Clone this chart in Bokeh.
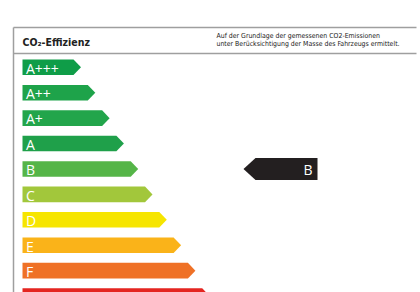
from bokeh.plotting import figure
from bokeh.models import Range1d, ColumnDataSource
from bokeh.core.properties import value
from bokeh.embed import file_html
from bokeh.resources import INLINE

# ---- data ----
classes = ["A+++", "A++", "A+", "A", "B", "C", "D", "E", "F", "G"]
class_rank = [1, 2, 3, 4, 5, 6, 7, 8, 9, 10]
vehicle_class = "B"
title_text = "CO\u2082-Effizienz"
note_lines = ["Auf der Grundlage der gemessenen CO2-Emissionen",
              "unter Ber\u00fccksichtigung der Masse des Fahrzeugs ermittelt."]

# ---- styles / layout ----
palette = ["#0f9d48", "#1ea34a", "#22a54b", "#1fa04a", "#55b548",
           "#a2c73b", "#f6e500", "#fab319", "#ef7126", "#e42520"]
W, H = 420, 292
row0, row_step, bar_half = 66.8, 25.42, 7.8
bar_left, tip0, tip_step, tip_depth = 22, 80.5, 14.3, 7.5
grey = "#9f9f9f"

p = figure(width=W, height=H, output_backend="svg", toolbar_location=None,
           x_range=Range1d(0, W), y_range=Range1d(H, 0), min_border=0)
p.axis.visible = False
p.grid.visible = False
p.outline_line_color = None
p.background_fill_color = "white"
p.border_fill_color = "white"

# header frame
p.segment(x0=[13, 13, 13], y0=[27, 53, 27], x1=[416, 416, 13], y1=[27, 53, H],
          line_color=grey, line_width=1.5)
p.text(x=[22], y=[41], text=[title_text], text_font=value("DejaVu Sans Condensed"),
       text_font_style="bold", text_font_size="10.5px", text_baseline="middle",
       text_color="#222222")
p.text(x=[216, 216], y=[35, 43.5], text=note_lines, text_font=value("DejaVu Sans Condensed"),
       text_font_size="6.9px", text_baseline="middle", text_color="#1a1a1a")

# bars
xs, ys, lx, ly = [], [], [], []
for r in class_rank:
    i = r - 1
    yc = row0 + row_step * i
    tip = tip0 + tip_step * i
    body = tip - tip_depth
    xs.append([bar_left, body, tip, body, bar_left])
    ys.append([yc - bar_half, yc - bar_half, yc, yc + bar_half, yc + bar_half])
    lx.append(bar_left + 3.5)
    ly.append(yc + 0.8)
src = ColumnDataSource(dict(xs=xs, ys=ys, c=palette, lx=lx, ly=ly, t=classes))
p.patches("xs", "ys", fill_color="c", line_color=None, source=src)
p.text("lx", "ly", text="t", source=src, text_color="white", text_font=value("Open Sans"),
       text_font_size="14px", text_baseline="middle")

# vehicle pointer
vi = classes.index(vehicle_class)
yc = row0 + row_step * vi
ph = 11
px0, px1, ptip = 255, 317, 243
p.patch([ptip, px0, px1, px1, px0], [yc, yc - ph, yc - ph, yc + ph, yc + ph],
        fill_color="#231f20", line_color=None)
p.text(x=[px1 - 5], y=[yc + 0.5], text=[vehicle_class], text_color="white",
       text_font=value("Open Sans"), text_font_size="14px", text_align="right",
       text_baseline="middle")

open("out.html", "w").write(file_html(p, INLINE))
